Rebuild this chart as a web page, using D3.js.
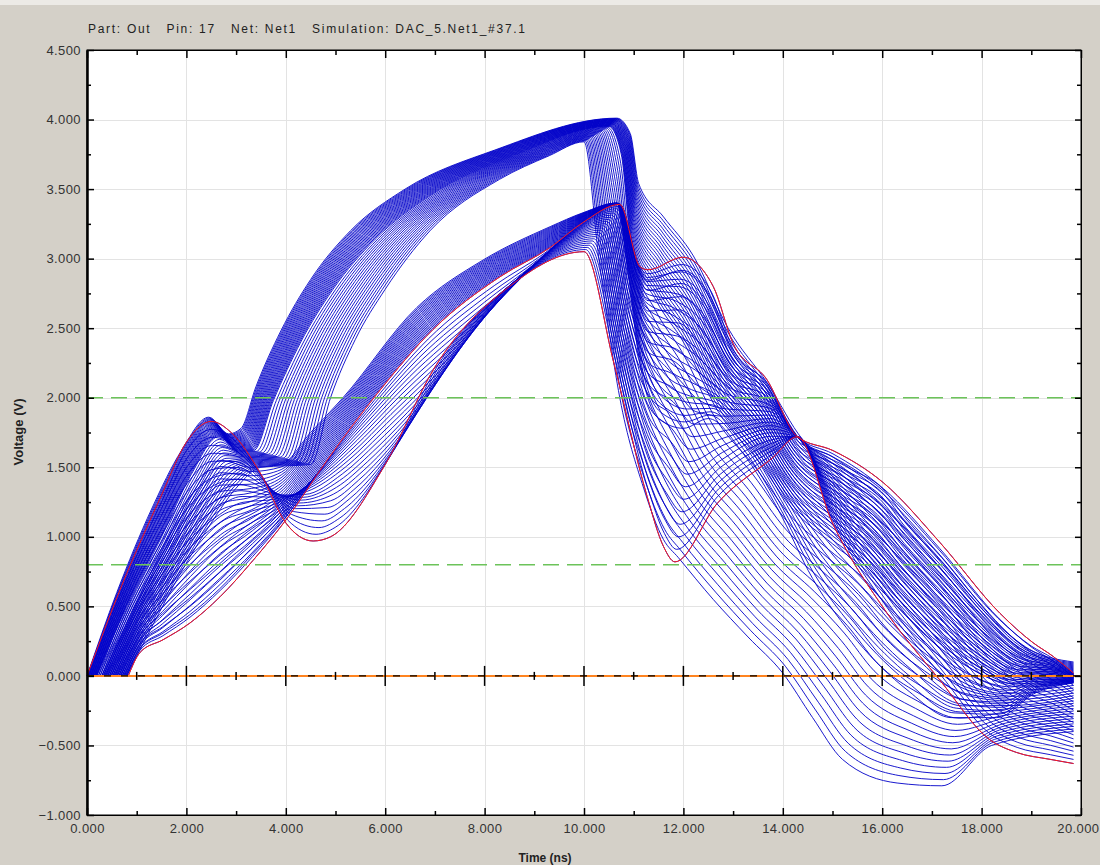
<!DOCTYPE html>
<html>
<head>
<meta charset="utf-8">
<script src="https://cdn.jsdelivr.net/npm/d3@7"></script>
<style>
  body { margin: 0; background: #d4d0c8; }
  text { font-family: "Liberation Sans", Arial, sans-serif; }
</style>
</head>
<body>
<svg width="1100" height="865"></svg>
<script>
const TITLE = "Part: Out   Pin: 17   Net: Net1   Simulation: DAC_5.Net1_#37.1"
const X_LABEL = "Time (ns)"
const Y_LABEL = "Voltage (V)"

const X_TICKS = [0, 2, 4, 6, 8, 10, 12, 14, 16, 18, 20]
const X_MINOR = [1, 3, 5, 7, 9, 11, 13, 15, 17, 19]
const Y_TICKS = [-1, -0.5, 0, 0.5, 1, 1.5, 2, 2.5, 3, 3.5, 4, 4.5]
const Y_MINOR = [-0.75, -0.25, 0.25, 0.75, 1.25, 1.75, 2.25, 2.75, 3.25, 3.75, 4.25]
const THRESHOLDS = [2.0, 0.8]

// key traces of the sweep, [time ns, volts]
// (same point count so matching points line up along the sweep)
const KEY_UA = [[0,0],[0.6,0.6],[1.3,1.2],[1.9,1.62],[2.45,1.86],[2.85,1.74],[3.1,1.78],[3.4,2.08],[3.9,2.48],[4.5,2.85],[5.3,3.2],[6.4,3.5],[8.2,3.78],[10.66,4.01],[10.93,3.9],[11.1,3.54],[11.6,3.3],[12.2,3.02],[12.9,2.5],[13.7,2.1],[14.4,1.7],[15.3,1.5],[16.0,1.35],[16.5,1.12],[17.2,0.85],[17.9,0.55],[18.9,0.2],[19.85,0.1]]
const KEY_UM = [[0.2,0],[0.8,0.5],[1.5,1.0],[2.1,1.45],[2.65,1.72],[3.05,1.62],[3.35,1.62],[3.75,1.98],[4.3,2.4],[4.95,2.78],[5.8,3.14],[6.9,3.45],[8.6,3.74],[10.5,3.95],[10.75,3.75],[10.95,3.1],[11.45,2.7],[12.0,2.4],[12.7,1.9],[13.5,1.55],[14.2,1.2],[15.0,0.95],[15.7,0.75],[16.3,0.5],[17.0,0.25],[17.8,0.05],[18.8,-0.08],[19.85,-0.05]]
const KEY_UB = [[0.8,0],[1.3,0.35],[1.9,0.75],[2.5,1.1],[3.0,1.35],[3.5,1.5],[4.5,1.52],[4.9,2.0],[5.4,2.42],[6.0,2.78],[6.9,3.2],[8.3,3.57],[9.3,3.74],[10.0,3.84],[10.3,3.0],[10.72,2.0],[11.2,1.35],[11.6,0.98],[11.9,0.85],[12.6,0.55],[13.3,0.28],[14.0,0.02],[14.6,-0.3],[15.2,-0.6],[16.3,-0.77],[17.2,-0.79],[18.2,-0.5],[19.85,-0.4]]
const KEY_LA = [[0,0],[0.7,0.65],[1.5,1.3],[2.0,1.68],[2.5,1.83],[2.9,1.75],[3.5,1.45],[4.0,1.1],[4.55,0.97],[4.9,1.0],[6.0,1.52],[7.0,2.22],[8.5,2.8],[10.0,3.05],[10.6,2.25],[11.27,1.29],[11.6,0.93],[11.83,0.82],[12.68,1.24],[13.8,1.57],[14.29,1.72],[15.0,1.1],[16.1,0.45],[17.16,-0.03],[18.17,-0.46],[18.7,-0.55],[19.38,-0.6],[19.85,-0.63]]
const KEY_LB = [[0.83,0],[1.07,0.17],[1.53,0.26],[2.07,0.38],[2.68,0.57],[3.34,0.83],[4.0,1.12],[4.83,1.55],[5.84,2.03],[6.96,2.49],[8.31,2.87],[9.32,3.08],[9.98,3.26],[10.72,3.39],[11.13,2.94],[11.29,2.92],[11.99,3.01],[12.6,2.8],[13.0,2.39],[13.68,2.13],[14.29,1.72],[15.01,1.62],[16.02,1.39],[17.16,0.96],[18.37,0.45],[19.03,0.24],[19.44,0.14],[19.85,0.02]]
const KEY_LC = [[0.3,0],[0.9,0.45],[1.5,0.9],[2.1,1.3],[2.7,1.55],[3.3,1.5],[3.9,1.52],[4.5,1.75],[5.15,2.0],[6.64,2.65],[7.97,2.99],[9.32,3.23],[9.98,3.33],[10.66,3.4],[10.85,3.0],[11.1,2.3],[11.5,1.85],[12.0,1.78],[12.5,1.85],[13.2,1.6],[13.9,1.2],[14.6,0.7],[15.5,0.25],[16.5,-0.1],[17.4,-0.3],[18.3,-0.3],[19.1,-0.12],[19.85,-0.05]]

// sweep runs: from key, to key, number of traces
const SWEEP_FROM = [KEY_UA, KEY_UM, KEY_LA, KEY_LB]
const SWEEP_TO = [KEY_UM, KEY_UB, KEY_LB, KEY_LC]
const SWEEP_COUNT = [22, 19, 22, 22]
const RED_TRACES = [KEY_LA, KEY_LB]

const svg = d3.select("svg")

const x = d3.scaleLinear().domain([0, 20]).range([87, 1081])
const y = d3.scaleLinear().domain([-1, 4.5]).range([815, 50])

svg.append("rect").attr("x", 0).attr("y", 0).attr("width", 1100).attr("height", 5).attr("fill", "#eceae6")

svg.append("rect")
    .attr("x", x(0)).attr("y", y(4.5))
    .attr("width", x(20) - x(0)).attr("height", y(-1) - y(4.5))
    .attr("fill", "#fff")

// grid
const grid = svg.append("g").attr("stroke", "#e3e3e3").attr("stroke-width", 1)
grid.selectAll(".gx").data(X_TICKS.slice(1, -1)).enter().append("line")
    .attr("x1", d => Math.round(x(d)) + 0.5).attr("x2", d => Math.round(x(d)) + 0.5)
    .attr("y1", y(4.5)).attr("y2", y(-1))
grid.selectAll(".gy").data(Y_TICKS.slice(1, -1)).enter().append("line")
    .attr("y1", d => Math.round(y(d)) + 0.5).attr("y2", d => Math.round(y(d)) + 0.5)
    .attr("x1", x(0)).attr("x2", x(20))

const trace = d3.line()
    .x(d => x(d[0]))
    .y(d => y(d[1]))
    .curve(d3.curveMonotoneX)

function sweep(a, b, n)
{
    return d3.range(n).map(i =>
    {
        const f = i / n
        return a.map((p, k) => [d3.interpolateNumber(p[0], b[k][0])(f), d3.interpolateNumber(p[1], b[k][1])(f)])
    })
}

const traces = []
SWEEP_FROM.forEach((a, s) => sweep(a, SWEEP_TO[s], SWEEP_COUNT[s]).forEach(t => traces.push(t)))
traces.push(KEY_UB, KEY_LC)

svg.append("g").selectAll("path").data(traces).enter().append("path")
    .attr("d", trace)
    .attr("fill", "none")
    .attr("stroke", "#0000c8")
    .attr("stroke-width", 0.9)

svg.append("g").selectAll("path").data(RED_TRACES).enter().append("path")
    .attr("d", trace)
    .attr("fill", "none")
    .attr("stroke", "#ff1a1a")
    .attr("stroke-width", 1)

// threshold lines
svg.append("g").selectAll("line").data(THRESHOLDS).enter().append("line")
    .attr("x1", x(0)).attr("x2", x(20))
    .attr("y1", d => y(d)).attr("y2", d => y(d))
    .attr("stroke", "#6cc35a")
    .attr("stroke-width", 1.5)
    .attr("stroke-dasharray", "16,8")

// ground reference
svg.append("line")
    .attr("x1", x(0)).attr("x2", x(20)).attr("y1", y(0)).attr("y2", y(0))
    .attr("stroke", "#ff8420").attr("stroke-width", 2)
svg.append("line")
    .attr("x1", x(0)).attr("x2", x(20)).attr("y1", y(0)).attr("y2", y(0))
    .attr("stroke", "#000").attr("stroke-width", 1.4).attr("stroke-dasharray", "7,10")
svg.append("g").selectAll("line").data(X_TICKS.slice(1, -1).concat(X_MINOR)).enter().append("line")
    .attr("x1", d => x(d)).attr("x2", d => x(d))
    .attr("y1", d => y(0) - (d % 2 ? 4 : 10)).attr("y2", d => y(0) + (d % 2 ? 4 : 10))
    .attr("stroke", "#000").attr("stroke-width", 1.5)

// frame and axes
svg.append("rect")
    .attr("x", x(0)).attr("y", y(4.5))
    .attr("width", x(20) - x(0)).attr("height", y(-1) - y(4.5))
    .attr("fill", "none").attr("stroke", "#000").attr("stroke-width", 1)

const fmt = d3.format(".3f")

const yAxis = svg.append("g")
    .attr("transform", "translate(" + x(0) + ",0)")
    .call(d3.axisLeft(y).tickValues(Y_TICKS).tickFormat(fmt).tickSizeInner(-7).tickSizeOuter(0).tickPadding(6))
svg.append("g")
    .attr("transform", "translate(" + x(0) + ",0)")
    .call(d3.axisLeft(y).tickValues(Y_MINOR).tickFormat("").tickSizeInner(-4).tickSizeOuter(0))
svg.append("g")
    .attr("transform", "translate(" + x(20) + ",0)")
    .call(d3.axisRight(y).tickValues(Y_TICKS).tickFormat("").tickSizeInner(-6).tickSizeOuter(0))
svg.append("g")
    .attr("transform", "translate(" + x(20) + ",0)")
    .call(d3.axisRight(y).tickValues(Y_MINOR).tickFormat("").tickSizeInner(-4).tickSizeOuter(0))

const xAxis = svg.append("g")
    .attr("transform", "translate(0," + y(-1) + ")")
    .call(d3.axisBottom(x).tickValues(X_TICKS).tickFormat(fmt).tickSizeInner(-7).tickSizeOuter(0).tickPadding(9))
svg.append("g")
    .attr("transform", "translate(0," + y(-1) + ")")
    .call(d3.axisBottom(x).tickValues(X_MINOR).tickFormat("").tickSizeInner(-4).tickSizeOuter(0))
svg.append("g")
    .attr("transform", "translate(0," + y(4.5) + ")")
    .call(d3.axisTop(x).tickValues(X_TICKS).tickFormat("").tickSizeInner(-8).tickSizeOuter(0))
svg.append("g")
    .attr("transform", "translate(0," + y(4.5) + ")")
    .call(d3.axisTop(x).tickValues(X_MINOR).tickFormat("").tickSizeInner(-5).tickSizeOuter(0))

svg.selectAll(".domain").attr("stroke", "#000")
yAxis.select(".domain").attr("stroke-width", 2.5)
svg.selectAll(".tick line").attr("stroke", "#000").attr("stroke-width", 1.5)
svg.selectAll(".tick text")
    .attr("fill", "#333")
    .style("font-size", "13px")
    .style("letter-spacing", "0.4px")
    .style("font-family", "'Liberation Sans', Arial, sans-serif")

// last time label sits against the window edge
xAxis.selectAll(".tick text").filter(d => d === 20)
    .attr("text-anchor", "end")
    .attr("x", 18)

svg.append("text")
    .attr("x", 88).attr("y", 33)
    .style("font-size", "12px")
    .attr("fill", "#222")
    .attr("xml:space", "preserve")
    .attr("textLength", 437)
    .attr("lengthAdjust", "spacing")
    .text(TITLE)

svg.append("text")
    .attr("x", 545).attr("y", 862)
    .attr("text-anchor", "middle")
    .style("font-size", "12px").style("font-weight", "bold")
    .attr("fill", "#222")
    .text(X_LABEL)

svg.append("text")
    .attr("transform", "translate(23,432) rotate(-90)")
    .attr("text-anchor", "middle")
    .style("font-size", "13px").style("font-weight", "bold")
    .attr("fill", "#222")
    .text(Y_LABEL)
</script>
</body>
</html>
